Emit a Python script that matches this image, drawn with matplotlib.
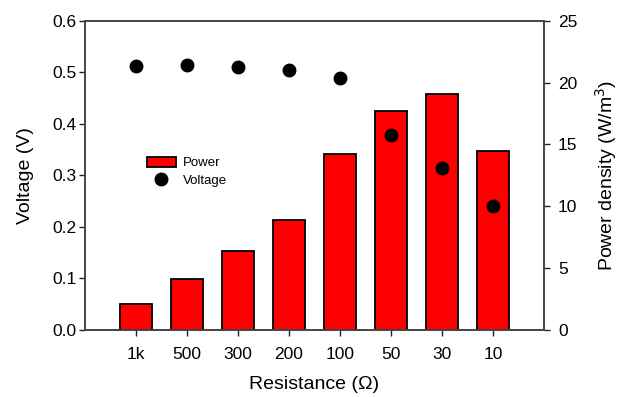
import matplotlib
matplotlib.use("Agg")
import matplotlib.pyplot as plt
import numpy as np

plt.rcParams['font.family'] = ['Liberation Sans', 'DejaVu Sans']

categories = ["1k", "500", "300", "200", "100", "50", "30", "10"]
power = [2.1, 4.1, 6.4, 8.9, 14.2, 17.7, 19.05, 14.5]
voltage = [0.513, 0.514, 0.510, 0.505, 0.488, 0.379, 0.314, 0.240]

x = np.arange(len(categories))

fig = plt.figure(figsize=(6.2, 3.97), dpi=100)
ax = fig.add_axes([85/620, (397-330)/397, (544-85)/620, (330-20.7)/397])
ax2 = ax.twinx()

bars = ax2.bar(x, power, width=0.61, color='#ff0000', edgecolor='black', linewidth=1.3, label='Power')
ax2.set_ylim(0, 25)
ax2.set_yticks([0, 5, 10, 15, 20, 25])
ax2.set_ylabel("Power density (W/m$^3$)", fontsize=14, labelpad=11)

pts, = ax.plot(x, voltage, 'o', color='black', markersize=9, label='Voltage', linestyle='none')
ax.set_ylim(0, 0.6)
ax.set_yticks([0, 0.1, 0.2, 0.3, 0.4, 0.5, 0.6])
ax.set_yticklabels(["0.0", "0.1", "0.2", "0.3", "0.4", "0.5", "0.6"])
ax.set_xlim(-1, 8)
ax.set_xticks(x)
ax.set_xticklabels(categories)
ax.set_ylabel("Voltage (V)", fontsize=14, labelpad=13)
ax.set_xlabel("Resistance (\u03a9)", fontsize=14, labelpad=10)

ax.set_zorder(ax2.get_zorder() + 1)
ax.patch.set_visible(False)

for a in (ax, ax2):
    a.tick_params(direction='out', length=4.5, width=1, labelsize=12.5, color='#222222')
    for s in a.spines.values():
        s.set_color('#444444')
        s.set_linewidth(1.2)
ax.tick_params(axis='y', pad=1.5)
ax.tick_params(axis='x', pad=8)
ax2.tick_params(axis='y', pad=5.5)

leg = ax.legend([bars, pts], ['Power', 'Voltage'], loc='center left',
                bbox_to_anchor=(140/620, 1 - 172/397), bbox_transform=fig.transFigure,
                frameon=False, fontsize=9.5, handlelength=2.25, handleheight=0.75,
                labelspacing=0.4, handletextpad=0.5, borderpad=0)

fig.savefig("out.png", dpi=100)
